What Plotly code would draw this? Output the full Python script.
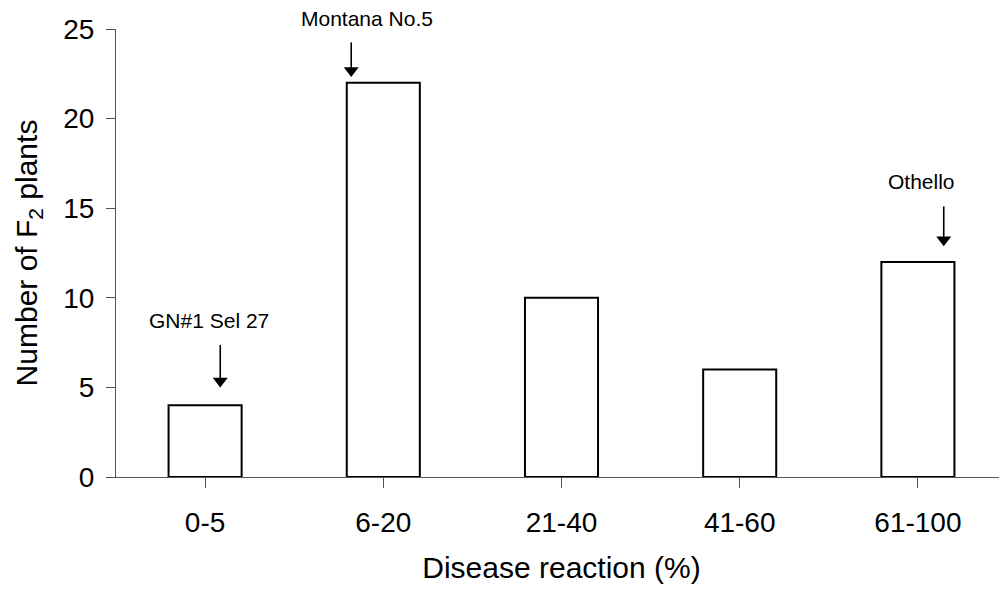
import plotly.graph_objects as go

categories = ["0-5", "6-20", "21-40", "41-60", "61-100"]
counts = [4, 22, 10, 6, 12]
y_ticks = [0, 5, 10, 15, 20, 25]

# annotation labels: text position; arrows: x, tip value, tail value (data units)
labels = ["GN#1 Sel 27", "Montana No.5", "Othello"]
label_x = [0.02, 0.91, 4.02]
label_y = [8.76, 25.6, 16.48]
arrow_x = [0.085, 0.82, 4.145]
arrow_tip = [4.97, 22.3, 12.85]
arrow_tail = [7.37, 24.25, 15.1]

Y_MAX = 25
PLOT_H = 448  # px height of plotting area
FONT = "Liberation Sans, Arial, Helvetica, sans-serif"

fig = go.Figure()
fig.add_trace(go.Bar(
    x=list(range(len(categories))), y=counts, width=0.41,
    marker=dict(color="white", line=dict(color="black", width=2)),
    showlegend=False, hoverinfo="x+y",
))

px_per_unit = PLOT_H / Y_MAX
for t, tx, ty, axx, tip, tail in zip(labels, label_x, label_y, arrow_x, arrow_tip, arrow_tail):
    fig.add_annotation(x=tx, y=ty / Y_MAX, xref="x", yref="paper", text=t, showarrow=False,
                       font=dict(family=FONT, size=21, color="black"),
                       xanchor="center", yanchor="middle")
    # shaft
    fig.add_trace(go.Scatter(x=[axx, axx], y=[tail, tip + 5 / px_per_unit], mode="lines",
                             line=dict(color="black", width=1.6), showlegend=False,
                             hoverinfo="skip", cliponaxis=False))
    # head
    fig.add_trace(go.Scatter(x=[axx], y=[tip + 7 / px_per_unit], mode="markers",
                             marker=dict(symbol="triangle-down", size=13, color="black"),
                             showlegend=False, hoverinfo="skip", cliponaxis=False))

fig.update_layout(
    width=999, height=581,
    margin=dict(l=108, r=0, t=21, b=112),
    paper_bgcolor="white", plot_bgcolor="white",
    font=dict(family=FONT, size=28, color="black"),
)
fig.update_xaxes(
    tickmode="array", tickvals=list(range(len(categories))), ticktext=categories,
    range=[-0.5, len(categories) - 0.5],
    showline=True, linecolor="#555", linewidth=1.2,
    ticks="outside", ticklen=10, tickcolor="#555", tickwidth=1.2,
    tickson="boundaries", ticklabelstandoff=10,
    showgrid=False, zeroline=False,
    title=dict(text="Disease reaction (%)", font=dict(size=30), standoff=20),
)
fig.update_yaxes(
    range=[0, Y_MAX], tickvals=y_ticks,
    showline=True, linecolor="#555", linewidth=1.2,
    ticks="outside", ticklen=9, tickcolor="#555", tickwidth=1.2,
    showgrid=False, zeroline=False,
    ticklabelstandoff=6,
    title=dict(text="Number of F<sub>2</sub> plants", font=dict(size=30), standoff=16),
)

fig.write_html("out.html")
